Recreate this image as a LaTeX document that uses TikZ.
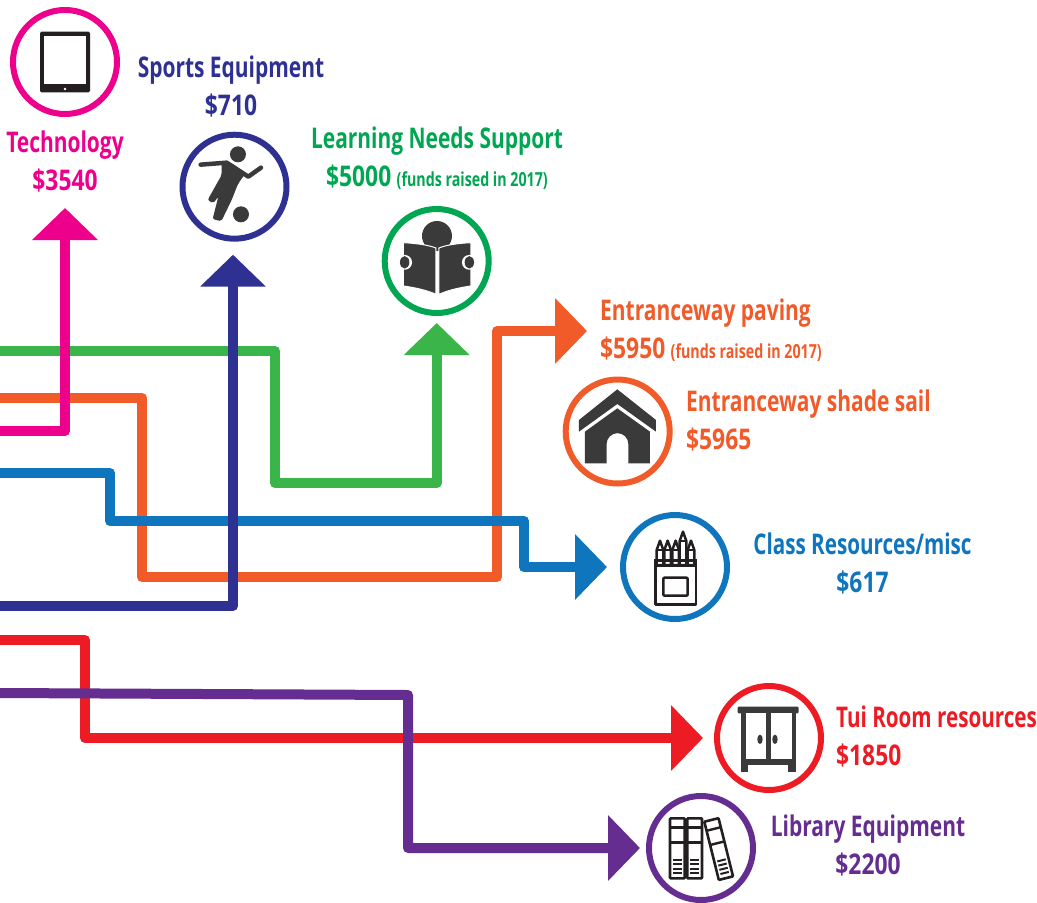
\documentclass[tikz,border=0pt]{standalone}
\usepackage{fontspec}
\setmainfont[FakeStretch=0.735]{Open Sans}
\newfontfamily\amountfont[FakeStretch=0.8]{Open Sans}
\usetikzlibrary{arrows.meta}
\definecolor{techcol}{HTML}{EC008C}
\definecolor{sportcol}{HTML}{2E3192}
\definecolor{learncol}{HTML}{00A651}
\definecolor{learnline}{HTML}{39B54A}
\definecolor{entrycol}{HTML}{F15A29}
\definecolor{classcol}{HTML}{0F75BC}
\definecolor{tuicol}{HTML}{ED1C24}
\definecolor{libcol}{HTML}{662D91}
\definecolor{icondark}{HTML}{3A3A3A}
\definecolor{iconblack}{HTML}{231F20}
\newcommand{\sumtext}[1]{{\amountfont\bfseries\$#1}}
\newcommand{\fundnote}{{\fontsize{19.4}{20}\selectfont (funds raised in 2017)}}
\tikzset{
  flow/.style={line width=10pt,line join=round,-{Triangle[length=32pt,width=64pt]}},
  gap/.style={shorten >=#1},
  ring/.style={circle,draw=#1,line width=6pt,minimum size=104pt,inner sep=0pt,fill=none},
  amount/.style={text=#1,font=\bfseries\fontsize{28.5}{38}\selectfont,inner sep=0pt}
}
\begin{document}
\begin{tikzpicture}[x=1pt,y=-1pt]
  \useasboundingbox (0,0) rectangle (1037,903);

  %%%%%%%%%%%%%%%%%%%%%%%%%%%%%%%%%%%%%%%%%%%%%%%%%%%%%%%%%%%%%%%%%%%%%%%%%%%
  %%%%  Rings
  \node[ring=techcol]  (techring)  at (65,62) {};
  \node[ring=sportcol] (sportring) at (234.5,186.7) {};
  \node[ring=learncol] (learnring) at (436.7,261) {};
  \node[ring=entrycol] (sailring)  at (617.7,431.5) {};
  \node[ring=classcol] (classring) at (675,567) {};
  \node[ring=tuicol]   (tuiring)   at (769,738) {};
  \node[ring=libcol]   (libring)   at (701,848) {};

  %%%%%%%%%%%%%%%%%%%%%%%%%%%%%%%%%%%%%%%%%%%%%%%%%%%%%%%%%%%%%%%%%%%%%%%%%%%
  %%%%  Labels
  \node[amount=techcol,align=center]  (techlabel)  at (65,161.5) {Technology\\\sumtext{3540}};
  \node[amount=sportcol,align=center] (sportlabel) at (231,86) {Sports Equipment\\\sumtext{710}};
  \node[amount=learncol,align=center] (learnlabel) at (437,158) {Learning Needs Support\\\sumtext{5000} \fundnote};
  \node[amount=entrycol,align=left,anchor=west] (pavelabel) at (600,330) {Entranceway paving\\\sumtext{5950} \fundnote};
  \node[amount=entrycol,align=left,anchor=west] (saillabel) at (686,420) {Entranceway shade sail\\\sumtext{5965}};
  \node[amount=classcol,align=center] (classlabel) at (862.5,563.5) {\scalebox{.985}[1]{Class Resources/misc}\\\sumtext{617}};
  \node[amount=tuicol,align=left,anchor=west] (tuilabel) at (836,736) {\scalebox{.985}[1]{Tui Room resources}\\\sumtext{1850}};
  \node[amount=libcol,align=center] (liblabel) at (868,845) {Library Equipment\\\sumtext{2200}};

  %%%%%%%%%%%%%%%%%%%%%%%%%%%%%%%%%%%%%%%%%%%%%%%%%%%%%%%%%%%%%%%%%%%%%%%%%%%
  %%%%  Flows
  \coordinate (learnstart) at (0,351);
  \coordinate (entrystart) at (0,398);
  \coordinate (classstart) at (0,473);
  \coordinate (techstart)  at (0,431);
  \coordinate (sportstart) at (0,606);
  \coordinate (tuistart)   at (0,640);
  \coordinate (libstart)   at (0,693);
  \coordinate (techtip)    at (65,208);
  \coordinate (pavetip)    at (587,331);

  \draw[flow,learnline,gap=7pt] (learnstart) -- (275,351) -- (275,483) -| (learnring.south);
  \draw[flow,entrycol] (entrystart) -- (142,398) -- (142,577) -- (497,577) |- (pavetip);
  \draw[flow,classcol,gap=13pt] (classstart) -- (110,473) -- (110,521) -- (524,521) |- (classring.west);
  \draw[flow,tuicol,gap=11pt] (tuistart) -- (85,640) |- (tuiring.west);
  \draw[flow,libcol,gap=6pt] (libstart) -- (408,695) |- (libring.west);
  \draw[flow,techcol] (techstart) -| (techtip);
  \draw[flow,sportcol,gap=13pt] (sportstart) -| ([xshift=-1.5pt]sportring.south);

  %%%%%%%%%%%%%%%%%%%%%%%%%%%%%%%%%%%%%%%%%%%%%%%%%%%%%%%%%%%%%%%%%%%%%%%%%%%
  %%%%  Tablet
  \fill[iconblack,rounded corners=1.5pt] (40,31.7) rectangle (90,92.3);
  \fill[white] (44.3,36) rectangle (86,84.3);
  \fill[white] (65,89) circle (1.4pt);

  %%%%  Player
  \begin{scope}[x=.3333pt,y=-.3333pt,icondark]
    \fill (714,463) circle (8pt);
    \fill (723,643) circle (8pt);
    \draw[line width=4.5pt,line cap=round,line join=round] (602,494) -- (680,488) -- (745,530) -- (783,503);
    \fill[rounded corners=2pt] (665,484) -- (700,492) -- (735,522) -- (714,552) -- (695,600) -- (664,664) -- (638,657) -- (655,590) -- (640,610) -- (623,600) -- (665,525) -- cycle;
  \end{scope}

  %%%%  Reader
  \begin{scope}[shift={(370pt,-200pt)},x=.3333pt,y=-.3333pt,icondark]
    \fill (201,108) circle (15pt);
    \fill[draw=white,line width=1pt] (100,128) .. controls (140,130) and (175,135) .. (198,144) -- (198,283) .. controls (170,270) and (130,262) .. (100,258) -- cycle;
    \fill[draw=white,line width=1pt] (303,128) .. controls (263,130) and (228,135) .. (207,144) -- (207,283) .. controls (235,270) and (273,262) .. (303,258) -- cycle;
    \foreach \hx in {104,298}
    {\fill[white] (\hx,187) circle (7.4pt);
     \fill (\hx,187) ellipse (4.7pt and 6.2pt);
    };
  \end{scope}

  %%%%  House
  \begin{scope}[shift={(370pt,-200pt)},x=.3333pt,y=-.3333pt,icondark]
    \fill (742,568) -- (858,660) -- (858,695) -- (742,612) -- (627,695) -- (627,660) -- cycle;
    \fill (742,625) -- (840,695) -- (840,790) -- (775,790) -- (775,732) arc (360:180:32.5) -- (710,790) -- (645,790) -- (645,695) -- cycle;
  \end{scope}

  %%%%  Crayons
  \begin{scope}[shift={(610pt,-500pt)},x=.3333pt,y=-.3333pt,iconblack,line width=2.5pt,line join=round]
    \foreach \cx/\ct in {150/122,173/122,197/122,219/95,243/122}
    {\pgfmathsetmacro\cs{\ct+28}
     \draw[fill=white] (\cx-10,195) -- (\cx-10,\cs) -- (\cx,\ct) -- (\cx+10,\cs) -- (\cx+10,195) -- cycle;
     \draw (\cx-10,\cs) -- (\cx+10,\cs);
     \draw (\cx-10,182) -- (\cx+10,182);
    };
    \draw (137,178) -- (137,313) -- (258,313) -- (258,178);
    \draw (137,197) -- (258,197);
    \draw[rounded corners=1pt] (160,233) rectangle (233,287);
  \end{scope}

  %%%%  Wardrobe
  \begin{scope}[shift={(640pt,-680pt)},x=.3333pt,y=-.3333pt,icondark]
    \fill[rounded corners=1pt] (293,80) rectangle (476,100);
    \fill (303,100) rectangle (468,255);
    \fill (303,255) rectangle (325,275);
    \fill (443,255) rectangle (468,275);
    \fill[white] (317,100) rectangle (377,238);
    \fill[white] (392,100) rectangle (455,238);
    \fill (360,178) ellipse (2.7pt and 4.7pt);
    \fill (405,178) ellipse (2.7pt and 4.7pt);
  \end{scope}

  %%%%  Books
  \foreach \bx/\by/\rot in {670/818.3/0,687.3/818.3/0,704.3/821.7/14}
  {\begin{scope}[shift={(\bx pt,-\by pt)},rotate=\rot,x=.3333pt,y=-.3333pt,iconblack]
     \draw[line width=2.6pt,rounded corners=.8pt] (0,0) rectangle (44,180);
     \foreach \bandy in {28,72}
     {\draw[line width=2.4pt] (0,\bandy) -- (44,\bandy);};
     \foreach \bandy in {125,138,151,164}
     {\draw[line width=2pt] (9,\bandy) -- (35,\bandy);};
   \end{scope}};
\end{tikzpicture}
\end{document}
